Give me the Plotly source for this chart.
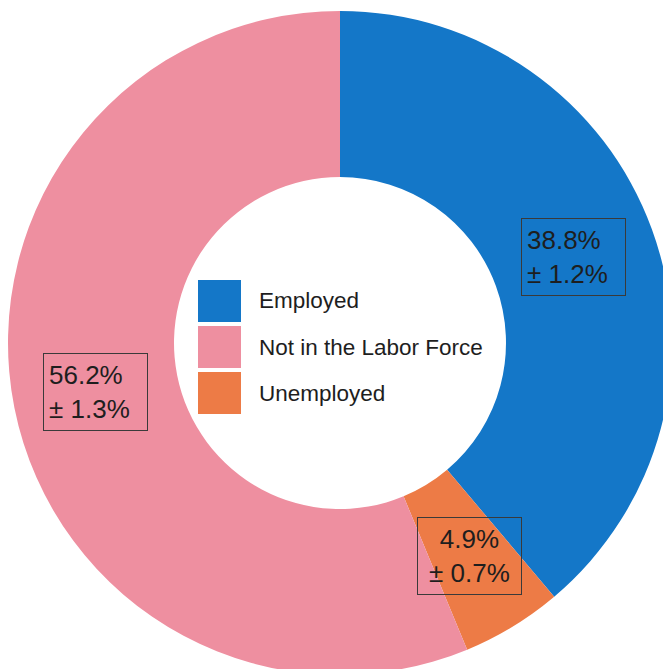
import math
import plotly.graph_objects as go

# ---- data ----
slice_labels = ["Employed", "Unemployed", "Not in the Labor Force"]
slice_values = [38.8, 4.9, 56.2]
slice_errors = [1.2, 0.7, 1.3]
slice_colors = ["#1477C8", "#ED7B46", "#EE8FA0"]
legend_order = ["Employed", "Not in the Labor Force", "Unemployed"]

# ---- geometry (pixels) ----
W, H = 700, 700
CX, CY, R = 340, 343, 332
HOLE = 0.5

def px(x):
    return x / W

def py(y):
    return 1 - y / H

fig = go.Figure()
fig.add_trace(go.Pie(
    labels=slice_labels,
    values=slice_values,
    marker=dict(colors=slice_colors, line=dict(width=0)),
    hole=HOLE,
    sort=False,
    direction="clockwise",
    rotation=0,
    textinfo="none",
    hoverinfo="label+value",
    showlegend=False,
    domain=dict(x=[px(CX - R), px(CX + R)], y=[py(CY + R), py(CY - R)]),
))

# slice labels at midpoint of each slice, middle of the ring
total = sum(slice_values)
cum = 0.0
r_lab = R * (1 + HOLE) / 2
aligns = {"Employed": "left", "Unemployed": "center", "Not in the Labor Force": "left"}
for lab, v, e in zip(slice_labels, slice_values, slice_errors):
    mid = (cum + v / 2) / total * 2 * math.pi
    cum += v
    x = CX + r_lab * math.sin(mid)
    y = CY - r_lab * math.cos(mid)
    fig.add_annotation(
        x=px(x), y=py(y), xref="paper", yref="paper",
        text=f"{v:.1f}%<br>± {e:.1f}%",
        showarrow=False, align=aligns[lab],
        font=dict(family="Arial, Liberation Sans", size=26, color="#1e1e1e"),
        bordercolor="#3a3a3a", borderwidth=1, borderpad=5,
        width=93, height=66,
        xanchor="center", yanchor="middle",
    )

# legend drawn in the hole
color_of = dict(zip(slice_labels, slice_colors))
LX0, LX1 = 198, 241
LY0, STEP, SZ = 280, 46, 42
for i, lab in enumerate(legend_order):
    y0 = LY0 + i * STEP
    fig.add_shape(type="rect", xref="paper", yref="paper",
                  x0=px(LX0), x1=px(LX1), y0=py(y0), y1=py(y0 + SZ),
                  fillcolor=color_of[lab], line=dict(width=0))
    fig.add_annotation(x=px(257), y=py(y0 + SZ / 2), xref="paper", yref="paper",
                       text=lab, showarrow=False, xanchor="left", yanchor="middle",
                       font=dict(family="Arial, Liberation Sans", size=22.5, color="#1e1e1e"))

fig.update_layout(
    width=W, height=H,
    margin=dict(l=0, r=0, t=0, b=0),
    paper_bgcolor="white", plot_bgcolor="white",
)

fig.write_html(
    "out.html",
    config={"displayModeBar": False},
    post_script="document.body.style.margin='0';document.body.style.overflow='hidden';document.documentElement.style.overflow='hidden';",
)
